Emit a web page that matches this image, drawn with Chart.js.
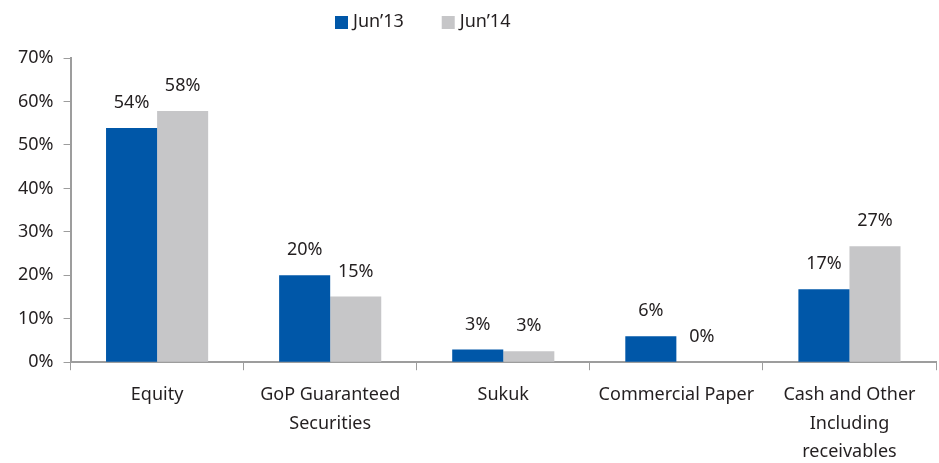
<!DOCTYPE html>
<html>
<head>
<meta charset="utf-8">
<script src="https://cdn.jsdelivr.net/npm/chart.js@4/dist/chart.umd.min.js"></script>
<style>
  html, body { margin: 0; padding: 0; background: #fff; overflow: hidden; }
  #wrap { width: 939px; height: 477px; }
</style>
</head>
<body>
<div id="wrap"><canvas id="assetChart"></canvas></div>
<script>
const categories = [
  'Equity',
  ['GoP Guaranteed', 'Securities'],
  'Sukuk',
  'Commercial Paper',
  ['Cash and Other', 'Including', 'receivables']
];
const jun13 = [53.9, 20.0, 2.9, 6.0, 16.8];
const jun14 = [57.8, 15.1, 2.5, 0.0, 26.7];
const yTicks = [0, 10, 20, 30, 40, 50, 60, 70];

const textColor = '#231f20';
const axisColor = '#9d9d9d';
const fontFamily = '"Noto Sans", "Liberation Sans", sans-serif';
const fontSize = 18;

// value labels above each bar
const barLabels = {
  id: 'barLabels',
  afterDatasetsDraw(chart) {
    const ctx = chart.ctx;
    ctx.save();
    ctx.fillStyle = textColor;
    ctx.font = fontSize + 'px ' + fontFamily;
    ctx.textAlign = 'center';
    ctx.textBaseline = 'middle';
    chart.data.datasets.forEach((ds, i) => {
      chart.getDatasetMeta(i).data.forEach((bar, j) => {
        ctx.fillText(Math.round(ds.data[j]) + '%', bar.x, bar.y - 25);
      });
    });
    ctx.restore();
  }
};

// legend drawn by hand so it can sit left of centre like the original
const topLegend = {
  id: 'topLegend',
  afterDraw(chart) {
    const ctx = chart.ctx;
    ctx.save();
    ctx.font = fontSize + 'px ' + fontFamily;
    ctx.textBaseline = 'middle';
    let x = 335;
    const y = 22;
    chart.data.datasets.forEach(ds => {
      ctx.fillStyle = ds.backgroundColor;
      ctx.fillRect(x, y - 6, 13, 13);
      ctx.fillStyle = textColor;
      ctx.fillText(ds.label, x + 18, y);
      x += 18 + ctx.measureText(ds.label).width + 38;
    });
    ctx.restore();
  }
};

new Chart(document.getElementById('assetChart').getContext('2d'), {
  type: 'bar',
  data: {
    labels: categories,
    datasets: [
      { label: 'Jun\u201913', data: jun13, backgroundColor: '#0057a8', categoryPercentage: 0.59, barPercentage: 1 },
      { label: 'Jun\u201914', data: jun14, backgroundColor: '#c6c6c8', categoryPercentage: 0.59, barPercentage: 1 }
    ]
  },
  options: {
    responsive: true,
    maintainAspectRatio: false,
    animation: false,
    layout: { padding: { left: 8, right: 3, top: 58, bottom: 0 } },
    plugins: {
      legend: { display: false },
      tooltip: { enabled: false }
    },
    scales: {
      x: {
        grid: { display: true, drawOnChartArea: false, drawTicks: true, tickLength: 8, color: axisColor, offset: true },
        border: { color: axisColor, width: 2 },
        ticks: { color: textColor, font: { family: fontFamily, size: fontSize, lineHeight: 1.57 }, padding: 11, maxRotation: 0, autoSkip: false }
      },
      y: {
        min: 0,
        max: 70,
        afterBuildTicks: axis => { axis.ticks = yTicks.map(v => ({ value: v })); },
        grid: { display: true, drawOnChartArea: false, drawTicks: true, tickLength: 7, color: axisColor },
        border: { color: axisColor, width: 2 },
        ticks: { color: textColor, font: { family: fontFamily, size: fontSize }, padding: 10, callback: v => v + '%' }
      }
    }
  },
  plugins: [barLabels, topLegend]
});
</script>
</body>
</html>
